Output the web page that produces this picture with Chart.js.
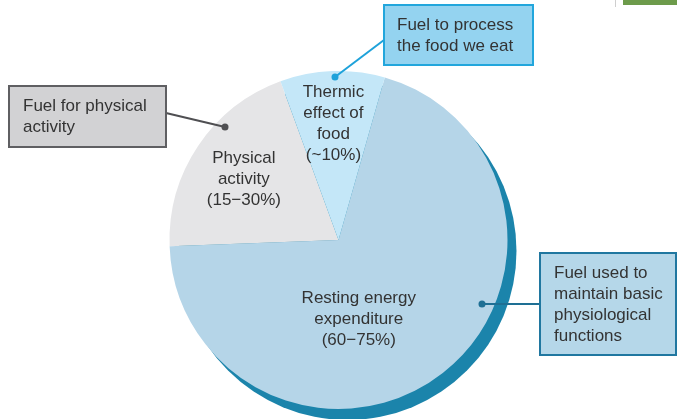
<!DOCTYPE html>
<html>
<head>
<meta charset="utf-8">
<script src="https://cdn.jsdelivr.net/npm/chart.js@4.4.0/dist/chart.umd.min.js"></script>
<style>
  html, body { margin: 0; padding: 0; background: #fff; }
</style>
</head>
<body>
<canvas id="pie-chart" width="677" height="419"></canvas>
<script>
// data
const categories = ["Resting energy expenditure", "Physical activity", "Thermic effect of food"];
const shares = [70, 20, 10];
const sliceColors = ["#b5d5e8", "#e5e5e7", "#c4e7f8"];
const sliceLabels = [
  ["Resting energy", "expenditure", "(60\u221275%)"],
  ["Physical", "activity", "(15\u221230%)"],
  ["Thermic", "effect of", "food", "(~10%)"]
];
const calloutTexts = [
  ["Fuel used to", "maintain basic", "physiological", "functions"],
  ["Fuel for physical", "activity"],
  ["Fuel to process", "the food we eat"]
];

const FONT = '17px "Liberation Sans", Arial, sans-serif';
const LINE_H = 21;

// label centres, in radius units from the pie centre
const labelOffsets = [[0.12, 0.47], [-0.56, -0.36], [-0.03, -0.69]];

// callout boxes (pixels) and their leader lines
const calloutBoxes = [
  { x: 540, y: 253, w: 136, h: 102, fill: "#b5d7e9", stroke: "#2077a0", line: "#1e6f94",
    from: [540, 304], dot: [482, 304], tx: 554, ty: 273 },
  { x: 9, y: 86, w: 157, h: 61, fill: "#d2d2d4", stroke: "#5f5f62", line: "#4f4f52",
    from: [166, 113], dot: [225, 127], tx: 23, ty: 106 },
  { x: 384, y: 5, w: 149, h: 60, fill: "#94d3f0", stroke: "#22a6dc", line: "#1ea2da",
    from: [384, 40], dot: [335, 77], tx: 397, ty: 25 }
];

const rimPlugin = {
  id: 'rim',
  beforeDatasetsDraw(chart) {
    const arc = chart.getDatasetMeta(0).data[0];
    const ctx = chart.ctx;
    ctx.save();
    ctx.fillStyle = "#1b84ab";
    ctx.beginPath();
    ctx.arc(arc.x + 9, arc.y + 11, arc.outerRadius, 0, Math.PI * 2);
    ctx.fill();
    ctx.restore();
  }
};

const labelPlugin = {
  id: 'sliceLabels',
  afterDatasetsDraw(chart) {
    const arcs = chart.getDatasetMeta(0).data;
    const ctx = chart.ctx;
    ctx.save();
    ctx.font = FONT;
    ctx.fillStyle = "#333";
    ctx.textAlign = "center";
    ctx.textBaseline = "middle";
    arcs.forEach((arc, i) => {
      const r = arc.outerRadius;
      const cx = arc.x + labelOffsets[i][0] * r;
      const cy = arc.y + labelOffsets[i][1] * r;
      const lines = sliceLabels[i];
      const top = cy - (lines.length - 1) * LINE_H / 2;
      lines.forEach((t, j) => ctx.fillText(t, cx, top + j * LINE_H));
    });
    ctx.restore();
  }
};

const calloutPlugin = {
  id: 'callouts',
  afterDraw(chart) {
    const ctx = chart.ctx;
    ctx.save();
    // green scrap top right
    ctx.fillStyle = "#6d9b4b";
    ctx.fillRect(623, 0, 54, 5);
    ctx.fillStyle = "#cfcfcf";
    ctx.fillRect(615, 0, 1, 7);

    calloutBoxes.forEach((b, i) => {
      ctx.strokeStyle = b.line;
      ctx.lineWidth = 2;
      ctx.beginPath();
      ctx.moveTo(b.from[0], b.from[1]);
      ctx.lineTo(b.dot[0], b.dot[1]);
      ctx.stroke();
      ctx.fillStyle = b.line;
      ctx.beginPath();
      ctx.arc(b.dot[0], b.dot[1], 3.5, 0, Math.PI * 2);
      ctx.fill();

      ctx.fillStyle = b.fill;
      ctx.fillRect(b.x, b.y, b.w, b.h);
      ctx.strokeStyle = b.stroke;
      ctx.lineWidth = 2;
      ctx.strokeRect(b.x, b.y, b.w, b.h);

      ctx.font = FONT;
      ctx.fillStyle = "#333";
      ctx.textAlign = "left";
      ctx.textBaseline = "middle";
      calloutTexts[i].forEach((t, j) => ctx.fillText(t, b.tx, b.ty + j * LINE_H));
    });
    ctx.restore();
  }
};

new Chart(document.getElementById("pie-chart"), {
  type: 'pie',
  data: {
    labels: categories,
    datasets: [{
      data: shares,
      backgroundColor: sliceColors,
      borderWidth: 0
    }]
  },
  options: {
    responsive: false,
    animation: false,
    rotation: 15.9,
    events: [],
    layout: { padding: { top: 71, bottom: 10, left: 0, right: 0 } },
    plugins: {
      legend: { display: false },
      tooltip: { enabled: false }
    }
  },
  plugins: [rimPlugin, labelPlugin, calloutPlugin]
});
</script>
</body>
</html>
